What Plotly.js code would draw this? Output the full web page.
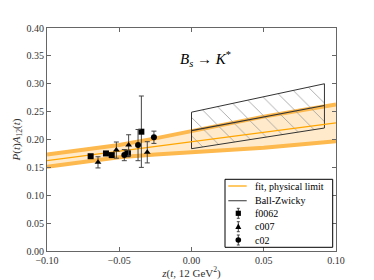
<!DOCTYPE html>
<html><head><meta charset="utf-8">
<script src="https://cdn.plot.ly/plotly-3.0.1.min.js"></script>
<style>html,body{margin:0;padding:0;background:#fff}</style>
</head><body>
<div id="chart" style="width:374px;height:280px"></div>
<script>
// fit band (physical limit)
const fitZ     = [-0.1, -0.075, -0.05, -0.025, 0.0, 0.025, 0.05, 0.075, 0.1];
const fitMid   = [0.162, 0.1705, 0.179, 0.1875, 0.196, 0.2045, 0.213, 0.2215, 0.230];
const fitUpper = [0.173, 0.181, 0.190, 0.202, 0.215, 0.228, 0.241, 0.252, 0.263];
const fitLower = [0.151, 0.160, 0.168, 0.173, 0.177, 0.181, 0.185, 0.191, 0.197];
// Ball-Zwicky
const bzZ     = [0.0, 0.092];
const bzMid   = [0.216, 0.261];
const bzUpper = [0.249, 0.300];
const bzLower = [0.1835, 0.2206];
// lattice data
const f0062Z = [-0.0698, -0.0592, -0.0552, -0.0440, -0.0347];
const f0062V = [0.170, 0.175, 0.172, 0.175, 0.214];
const f0062E = [0.002, 0.003, 0.003, 0.006, 0.064];
const c007Z = [-0.0647, -0.0520, -0.0435, -0.0306];
const c007V = [0.159, 0.181, 0.190, 0.177];
const c007E = [0.010, 0.0145, 0.0185, 0.019];
const c02Z = [-0.0465, -0.0370, -0.0260];
const c02V = [0.172, 0.190, 0.204];
const c02E = [0.010, 0.028, 0.011];
// legend labels
const legendLabels = ['fit, physical limit', 'Ball-Zwicky', 'f0062', 'c007', 'c02'];

const serif = "Liberation Serif, DejaVu Serif, serif";
const orange = "#FFA500";
const bandLine = "#FDB94E";
const bandFill = "#FFEBCB";

const bzPolyX = [bzZ[0], bzZ[1], bzZ[1], bzZ[0], bzZ[0]];
const bzPolyY = [bzUpper[0], bzUpper[1], bzLower[1], bzLower[0], bzUpper[0]];

function pts(z, v, e, sym, name) {
  return {x: z, y: v, type: 'scatter', mode: 'markers', name: name,
    marker: {symbol: sym, size: 6, color: '#000'},
    error_y: {type: 'data', array: e, visible: true, color: '#444', thickness: 1, width: 2.5}};
}

const data = [
  {x: fitZ, y: fitLower, mode: 'lines', line: {width: 0}, hoverinfo: 'skip'},
  {x: fitZ, y: fitUpper, mode: 'lines', line: {width: 0}, fill: 'tonexty', fillcolor: bandFill, hoverinfo: 'skip'},
  {x: fitZ, y: fitUpper, mode: 'lines', line: {color: bandLine, width: 4}},
  {x: fitZ, y: fitLower, mode: 'lines', line: {color: bandLine, width: 4}},
  {x: bzPolyX, y: bzPolyY, mode: 'lines', fill: 'toself', fillcolor: 'rgba(0,0,0,0)',
   fillpattern: {shape: '\\', fgcolor: '#999', bgcolor: 'rgba(0,0,0,0)', size: 13, solidity: 0.06},
   line: {color: '#333', width: 1}},
  {x: fitZ, y: fitMid, mode: 'lines', name: legendLabels[0], line: {color: orange, width: 1.2}},
  {x: bzZ, y: bzMid, mode: 'lines', name: legendLabels[1], line: {color: '#333', width: 1.2}},
  pts(f0062Z, f0062V, f0062E, 'square', legendLabels[2]),
  pts(c007Z, c007V, c007E, 'triangle-up', legendLabels[3]),
  pts(c02Z, c02V, c02E, 'circle', legendLabels[4])
];

// compact legend box (paper coordinates)
const W = 289, H = 223;
const px = v => (v - 47) / W;
const py = v => (251 - v) / H;
const rowY = [186, 200.7, 213.3, 226.7, 240];
const mX = 238.3;
const shapes = [
  {type: 'rect', xref: 'paper', yref: 'paper', x0: px(225), x1: px(332.7), y0: py(247.3), y1: py(179.3),
   fillcolor: '#fff', line: {color: '#000', width: 1}},
  {type: 'line', xref: 'paper', yref: 'paper', x0: px(228.3), x1: px(246.7), y0: py(rowY[0]), y1: py(rowY[0]),
   line: {color: orange, width: 1.2}},
  {type: 'line', xref: 'paper', yref: 'paper', x0: px(228.3), x1: px(246.7), y0: py(rowY[1]), y1: py(rowY[1]),
   line: {color: '#555', width: 1.2}}
];
[2, 3, 4].forEach(i => {
  const y = rowY[i];
  shapes.push({type: 'line', xref: 'paper', yref: 'paper', x0: px(mX), x1: px(mX), y0: py(y - 5), y1: py(y + 5), line: {color: '#444', width: 1}});
  shapes.push({type: 'line', xref: 'paper', yref: 'paper', x0: px(mX - 1.5), x1: px(mX + 1.5), y0: py(y - 5), y1: py(y - 5), line: {color: '#444', width: 1}});
  shapes.push({type: 'line', xref: 'paper', yref: 'paper', x0: px(mX - 1.5), x1: px(mX + 1.5), y0: py(y + 5), y1: py(y + 5), line: {color: '#444', width: 1}});
});
shapes.push({type: 'rect', xref: 'paper', yref: 'paper', x0: px(mX - 2.6), x1: px(mX + 2.6), y0: py(rowY[2] + 2.6), y1: py(rowY[2] - 2.6),
  fillcolor: '#000', line: {width: 0}});
shapes.push({type: 'path', xref: 'paper', yref: 'paper',
  path: `M ${px(mX - 3)} ${py(rowY[3] + 2.4)} L ${px(mX + 3)} ${py(rowY[3] + 2.4)} L ${px(mX)} ${py(rowY[3] - 3.2)} Z`,
  fillcolor: '#000', line: {width: 0}});
shapes.push({type: 'circle', xref: 'paper', yref: 'paper', x0: px(mX - 2.8), x1: px(mX + 2.8), y0: py(rowY[4] + 2.8), y1: py(rowY[4] - 2.8),
  fillcolor: '#000', line: {width: 0}});

const annotations = [{
  text: '<i>B<sub>s</sub></i> \u2192 <i>K</i><sup>*</sup>', xref: 'paper', yref: 'paper',
  x: 0.547, y: 0.915, showarrow: false, font: {family: serif, size: 15, color: '#000'}
}];
legendLabels.forEach((t, i) => annotations.push({
  text: t, xref: 'paper', yref: 'paper', x: px(253), y: py(rowY[i]), xanchor: 'left', yanchor: 'middle',
  showarrow: false, font: {family: serif, size: 10, color: '#000'}
}));

const axisCommon = {
  showline: true, mirror: 'ticks', linecolor: '#666', linewidth: 1,
  ticks: 'inside', ticklen: 4, tickcolor: '#666', showgrid: false, zeroline: false,
  tickfont: {family: serif, size: 10, color: '#333'}
};

const layout = {
  width: 374, height: 280,
  margin: {l: 47, r: 38, t: 28, b: 29},
  paper_bgcolor: '#fff', plot_bgcolor: '#fff',
  showlegend: false,
  xaxis: Object.assign({}, axisCommon, {
    range: [-0.1, 0.1], tickvals: [-0.1, -0.05, 0, 0.05, 0.1], tickformat: '.2f',
    title: {text: '<i>z</i>(<i>t</i>, 12 GeV<sup>2</sup>)', font: {family: serif, size: 11, color: '#333'}, standoff: 4}
  }),
  yaxis: Object.assign({}, axisCommon, {
    range: [0, 0.4], dtick: 0.05, tickformat: '.2f',
    title: {text: '<i>P</i>(<i>t</i>)<i>A</i><sub>12</sub>(<i>t</i>)', font: {family: serif, size: 11, color: '#333'}, standoff: 3}
  }),
  shapes: shapes,
  annotations: annotations
};

Plotly.newPlot('chart', data, layout, {staticPlot: true, displayModeBar: false});
</script>
</body></html>
